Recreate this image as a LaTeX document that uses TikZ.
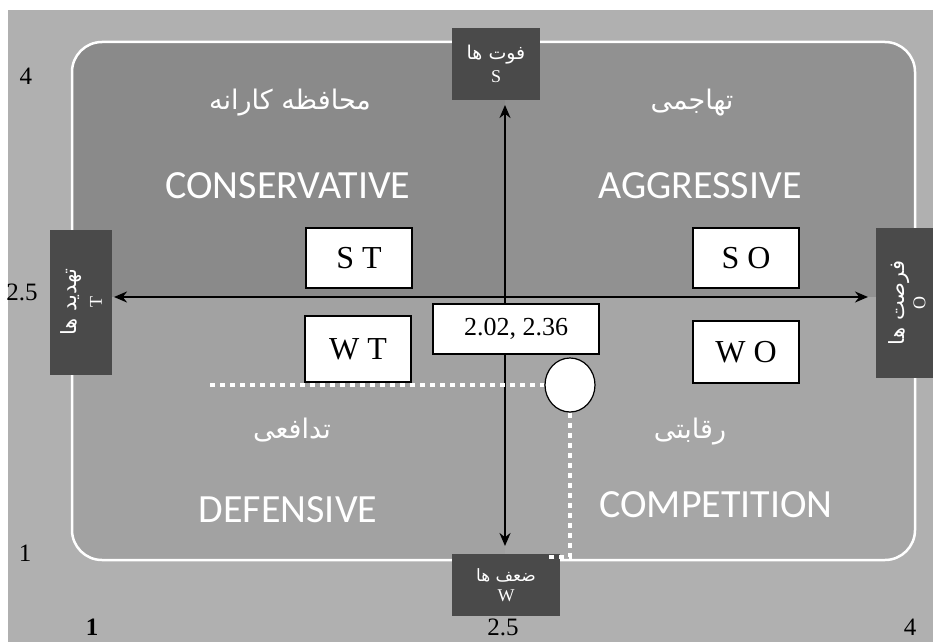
\documentclass[tikz,border=0pt]{standalone}
\usepackage{fontspec}
\setmainfont{Liberation Serif}
\newfontfamily\arabicfont[Script=Arabic]{DejaVu Sans}
\newfontfamily\latinsans{Carlito}
\TeXXeTstate=1
\usetikzlibrary{shapes.geometric,arrows.meta}
\definecolor{pagebg}{HTML}{B0B0B0}
\definecolor{topq}{HTML}{8A8A8A}
\definecolor{botq}{HTML}{A2A2A2}
\definecolor{darkbox}{HTML}{4A4A4A}
\tikzset{
  lblbox/.style={fill=darkbox,text=white,inner sep=0pt,align=center},
  quadbox/.style={draw=black,line width=1.2pt,fill=white,inner sep=0pt,font=\fontsize{32}{34}\selectfont},
  entitle/.style={text=white,font=\latinsans\fontsize{40}{44}\selectfont},
  fatitle/.style={text=white,font=\arabicfont\fontsize{27}{30}\selectfont},
  axisnum/.style={font=\fontsize{25}{28}\selectfont},
  axisline/.style={line width=2.4pt,{Stealth[length=13pt,width=11pt]}-{Stealth[length=13pt,width=11pt]}},
  dotline/.style={white,line width=4pt,dash pattern=on 5pt off 5pt}
}
\newcommand{\fabox}[1]{{\arabicfont\fontsize{19}{21}\selectfont\beginR #1\endR}}
\newcommand{\fasmall}[1]{{\arabicfont\fontsize{17}{19}\selectfont\beginR #1\endR}}
\newcommand{\falarge}[1]{{\arabicfont\fontsize{21}{23}\selectfont\beginR #1\endR}}
\newcommand{\enbox}[1]{{\fontsize{18}{20}\selectfont #1}}
\begin{document}
\begin{tikzpicture}[x=1pt,y=1pt]
\useasboundingbox (0,0) rectangle (933,-642);
\fill[white] (0,0) rectangle (933,-642);
\fill[pagebg] (8,-10) rectangle (933,-642);
% quadrant panel
\begin{scope}
\clip[rounded corners=30pt] (72,-42) rectangle (915,-560);
\fill[topq] (72,-42) rectangle (505,-297);
\fill[topq!94!white] (505,-42) rectangle (915,-297);
\fill[botq] (72,-297) rectangle (505,-560);
\fill[botq!96!white] (505,-297) rectangle (915,-560);
\end{scope}
\draw[white,line width=2.5pt,rounded corners=30pt] (72,-42) rectangle (915,-560);
% quadrant titles
\node[fatitle] (faCon) at (290,-103) {\beginR محافظه کارانه\endR};
\node[fatitle] (faAgg) at (692,-103) {\beginR تهاجمی\endR};
\node[fatitle] (faDef) at (292,-430) {\beginR تدافعی\endR};
\node[fatitle] (faCom) at (690,-432) {\beginR رقابتی\endR};
\node[entitle] (enCon) at (288,-186) {CONSERVATIVE};
\node[entitle] (enAgg) at (700,-186) {AGGRESSIVE};
\node[entitle] (enDef) at (288,-510) {DEFENSIVE};
\node[entitle] (enCom) at (716,-505) {COMPETITION};
% dotted guide lines
\coordinate (dotL) at (210,-385);
\coordinate (dotB) at (570,-557);
\coordinate (dotBL) at (548,-557);
% label boxes
\node[lblbox,minimum width=88pt,minimum height=72pt] (S) at (496,-64) {\fabox{فوت ها}\\[6pt]\enbox{S}};
\node[lblbox,minimum width=108pt,minimum height=62pt] (W) at (506,-585) {\fasmall{ضعف ها}\\[7pt]\enbox{W}};
\node[lblbox,rotate=90,minimum width=145pt,minimum height=62pt] (T) at (81,-302) {\falarge{تهدید ها}\\[8pt]\enbox{T}};
\node[lblbox,rotate=90,minimum width=150pt,minimum height=62pt] (O) at (907,-303) {\falarge{فرصت ها}\\[3pt]\enbox{O}};
% axes
\coordinate (axT) at (505,-105);
\coordinate (axB) at (505,-546);
\coordinate (axL) at (114,-297);
\coordinate (axR) at (868,-297);
\draw[axisline] (axB) -- (axT);
\draw[axisline] (axL) -- (axR);
% quadrant boxes
\node[quadbox,minimum width=106pt,minimum height=60pt] (ST) at (359,-258) {S T};
\node[quadbox,minimum width=106pt,minimum height=60pt] (SO) at (746,-258) {S O};
\node[quadbox,minimum width=106pt,minimum height=66pt] (WT) at (358,-349) {W T};
\node[quadbox,minimum width=106pt,minimum height=62pt] (WO) at (746,-352) {W O};
\node[quadbox,minimum width=166pt,minimum height=50pt,font=\fontsize{26}{28}\selectfont] (pt) at (516,-329) {2.02, 2.36};
% position circle
\node[ellipse,draw=black,line width=1.2pt,fill=white,minimum width=50pt,minimum height=54pt,inner sep=0pt] (pos) at (570,-385) {};
\draw[dotline] (dotL) -- (pos.west);
\draw[dotline] (pos.south) -- (dotB) -- (dotBL);
% axis numbers
\node[axisnum] (n4l) at (26,-76) {4};
\node[axisnum] (n25l) at (22,-292) {2.5};
\node[axisnum] (n1l) at (25,-553) {1};
\node[axisnum] (n1b) at (92,-627) {\textbf{1}};
\node[axisnum] (n25b) at (503,-627) {2.5};
\node[axisnum] (n4b) at (910,-627) {4};
\end{tikzpicture}
\end{document}
